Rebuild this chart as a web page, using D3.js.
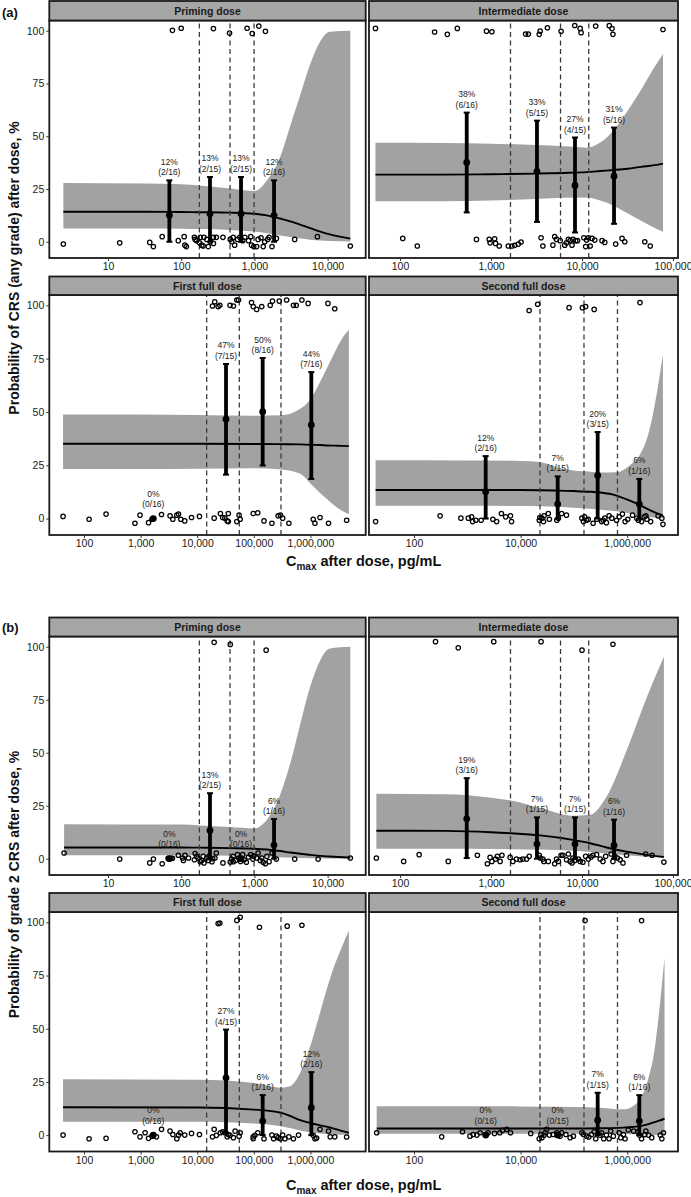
<!DOCTYPE html>
<html><head><meta charset="utf-8">
<script src="https://cdn.jsdelivr.net/npm/d3@7"></script>
<style>body{margin:0;background:#fff} svg{display:block}</style>
</head><body><svg id="chart" width="691" height="1197"></svg>
<script>
// ---------------- DATA ----------------
const doses = ["Priming dose", "Intermediate dose", "First full dose", "Second full dose"];
const partLabels = ["(a)", "(b)"];
const yTitles = ["Probability of CRS (any grade) after dose, %", "Probability of grade 2 CRS after dose, %"];
const yTicks = [0, 25, 50, 75, 100];
const xTickValues = [[10, 100, 1000, 10000], [100, 1000, 10000, 100000], [100, 1000, 10000, 100000, 1000000], [100, 10000, 1000000]];
// log10 axis ranges (pg/mL)
const xLogRange = [[0.198, 4.52], [1.659, 5.055], [1.387, 6.977], [1.156, 6.953]];
// quartile cut points of Cmax (pg/mL)
const quartileCuts = [[177, 464, 989], [1637, 5808, 11860], [14700, 55500, 302000], [23100, 154600, 657000]];

// observed points: [log10 Cmax, response % (jittered)]
const ptsAnyPriming = [[1.88,100.2],[2.00,101.2],[2.44,101],[2.66,98.9],[2.90,101.2],[2.97,98.7],[3.06,102.2],[3.15,99.7],
[0.39,-1.1],[1.16,-0.5],[1.57,-0.3],[1.62,-2.3],[1.74,2.4],[1.96,0.5],[2.04,2.4],[2.05,-1.6],[2.07,-2.3],[2.18,2.1],[2.19,1.1],[2.21,0.5],[2.25,-0.5],[2.28,-1.6],[2.30,-2.0],[2.31,2.1],[2.35,1.1],[2.37,-2.3],[2.40,0],[2.44,-0.8],[2.48,2.1],[2.57,2.1],[2.67,1.1],[2.69,0],[2.73,-1.6],[2.77,1.1],[2.80,2.1],[2.84,0.5],[2.87,2.1],[2.95,2.4],[2.96,-1.6],[2.99,-2.3],[3.03,-2.3],[3.05,1.1],[3.09,1.9],[3.12,-2.3],[3.14,0],[3.18,1.1],[3.20,2.1],[3.24,-2.3],[3.30,1.6],[3.55,1.1],[3.86,2.4],[4.31,-2.0],[2.26,2.1],[2.44,2.1],[2.71,2.1],[2.92,0.5]];
const ptsAnyIntermediate = [[1.73,101.1],[2.38,99.4],[2.52,98.3],[2.63,101.1],[2.95,99.8],[3.01,99.5],[3.38,98.4],[3.41,98.4],[3.53,98.3],[3.54,99.8],[3.62,101.4],[3.77,99.7],[3.92,102.5],[3.98,101.1],[3.99,99.1],[4.15,102.2],[4.30,102.4],[4.33,101],[4.34,98.3],[4.89,100.6],
[2.03,1.6],[2.19,-2.0],[2.84,1.1],[2.98,1.1],[2.99,-0.5],[3.04,1.4],[3.05,-0.8],[3.09,-2.0],[3.19,-2.0],[3.23,-2.0],[3.26,-1.7],[3.30,-1.1],[3.33,-0.1],[3.55,1.9],[3.57,-2.0],[3.68,-1.6],[3.70,2.4],[3.72,1.1],[3.76,0.5],[3.81,-1.6],[3.83,-0.5],[3.85,1.1],[3.87,0.5],[3.89,-1.6],[3.90,1.1],[3.93,0.5],[3.95,0.5],[4.02,1.9],[4.04,-2.3],[4.05,0.8],[4.07,1.9],[4.09,-2.0],[4.11,1.6],[4.14,0.8],[4.22,0.5],[4.25,-0.3],[4.37,-1.1],[4.44,1.6],[4.47,0],[4.69,0],[4.75,-2.0]];
const ptsAnyFirst = [[4.27,99.7],[4.31,101.7],[4.37,99.4],[4.40,100],[4.58,100],[4.64,99.7],[4.70,102.5],[4.73,102.5],[4.96,101.3],[4.99,99.4],[5.05,98.1],[5.14,99.4],[5.29,100],[5.33,102],[5.45,102],[5.58,102.5],[5.70,100],[5.75,100],[5.85,102.5],[5.96,100.9],[6.31,100.9],[6.43,98.4],
[1.63,1.0],[2.09,-0.3],[2.39,2.1],[2.90,-2.2],[2.99,1.6],[3.14,-1.9],[3.20,-0.3],[3.22,0],[3.37,1.9],[3.52,1.3],[3.57,-0.3],[3.64,1.6],[3.67,2.1],[3.71,-0.3],[3.78,-1.1],[3.90,0.5],[4.04,1.0],[4.30,0.2],[4.41,2.4],[4.45,0.5],[4.49,0.2],[4.53,-1.1],[4.55,2.4],[4.70,-1.4],[4.74,1.6],[4.76,-0.3],[4.99,2.4],[5.07,2.7],[5.18,-1.1],[5.32,-2.2],[5.43,1.3],[5.47,1.6],[5.51,0.2],[5.62,-2.2],[6.05,-0.3],[6.08,-2.2],[6.17,0.5],[6.32,-2.2],[6.64,-0.8],[4.55,-1.4]];
const ptsAnySecond = [[4.16,97.6],[4.32,100.5],[4.91,98.9],[5.16,98.9],[5.22,99.4],[5.38,98.1],[6.24,101.3],
[1.28,-1.4],[2.49,1.3],[2.88,0.2],[3.02,0.2],[3.10,-1.4],[3.16,-0.8],[3.26,-0.8],[3.48,-0.3],[3.64,2.4],[3.72,0.8],[3.81,1.3],[3.83,-1.4],[4.35,-0.8],[4.40,0.2],[4.43,-1.4],[4.52,2.4],[4.54,-0.3],[4.77,2.4],[4.86,1.6],[5.15,0.2],[5.20,0.8],[5.27,-0.3],[5.36,-2.2],[5.43,-0.3],[5.52,-1.4],[5.58,0.2],[5.61,-1.9],[5.66,1.3],[5.85,0.8],[5.91,2.1],[5.96,-1.4],[6.01,-0.3],[6.10,1.6],[6.21,-0.8],[6.32,0.8],[6.35,1.3],[6.44,-1.4],[6.58,1.3],[6.65,0.2],[6.67,-2.7],[4.68,-0.8],[4.71,0.2],[4.36,0.5],[4.44,1.3],[5.18,-1.4],[5.24,-0.8],[5.55,-0.8],[5.71,0.2],[5.80,-0.8],[6.18,0.2],[6.27,-1.4],[6.37,-0.3],[3.55,-1.4],[3.08,0.8]];
const ptsG2Priming = [[2.45,102.1],[2.67,101.1],[3.16,98.4],
[0.40,2.7],[1.16,-0.2],[1.57,-2.0],[1.62,-0.2],[1.74,-2.4],[1.82,0.2],[1.86,0.2],[1.88,0.2],[1.96,1.6],[2.02,0.3],[2.05,1.6],[2.03,-0.8],[2.19,2.4],[2.18,-0.5],[2.23,0.3],[2.26,-1.4],[2.30,1.1],[2.31,-2.0],[2.35,0.3],[2.38,1.1],[2.42,-1.4],[2.43,0],[2.48,2.7],[2.57,-2.0],[2.67,-1.6],[2.69,-0.2],[2.71,1.1],[2.74,-0.8],[2.77,1.9],[2.79,0.3],[2.84,1.9],[2.86,-0.5],[2.89,-1.7],[2.95,1.9],[2.98,-0.2],[2.99,1.1],[3.05,2.7],[3.08,-0.8],[3.12,-1.7],[3.15,-2.4],[3.20,-1.4],[3.30,-0.2],[3.55,-0.2],[3.87,-0.2],[4.31,0.3],[2.21,1.1],[2.28,-0.8],[2.37,-0.8],[2.46,0.3],[2.71,-1.4],[2.81,-1.3],[2.92,0.8],[3.03,0.3],[3.10,0.3],[3.17,1.1],[3.24,2.7],[2.10,0.3]];
const ptsG2Intermediate = [[2.39,102.4],[2.64,99.5],[3.03,102.4],[3.55,102.4],[4.00,98.4],[4.34,101.2],
[1.74,0.3],[2.04,-1.3],[2.21,1.9],[2.53,-1.3],[2.85,1.6],[2.96,-2.4],[2.99,0.6],[3.01,-1.3],[3.05,-0.2],[3.07,1.1],[3.12,1.6],[3.21,0.6],[3.24,-1.3],[3.28,-0.2],[3.32,-0.5],[3.35,-0.2],[3.42,1.1],[3.53,1.6],[3.57,-0.2],[3.63,-1.3],[3.70,-2.4],[3.72,-0.2],[3.77,1.6],[3.79,1.6],[3.85,2.2],[3.87,-1.3],[3.89,-2.0],[3.92,-0.8],[3.98,-1.3],[4.04,1.1],[4.07,-0.2],[4.12,1.6],[4.16,1.9],[4.23,-1.3],[4.26,1.1],[4.32,2.2],[4.34,-1.3],[4.39,0.3],[4.45,-2.0],[4.49,1.6],[4.70,2.2],[4.77,1.6],[4.90,-1.6],[3.54,0.3],[3.58,-1.3],[3.90,0.3],[3.96,-0.2],[4.10,0.8],[4.36,1.1],[3.10,-1.3],[3.39,-0.2],[3.74,-1.3],[3.83,-0.5],[4.01,-1.7],[4.20,-0.2],[4.42,-0.5]];
const ptsG2First = [[4.37,99.4],[4.40,99.7],[4.70,100.9],[4.76,102.4],[5.10,97.7],[5.59,98.2],[5.85,98.6],
[1.63,0],[2.09,-1.7],[2.39,-1.5],[2.90,1.6],[2.99,-0.8],[3.14,-1.5],[3.20,-0.5],[3.22,0],[3.37,2.7],[3.52,1.9],[3.57,0.3],[3.64,-1.7],[3.67,0],[3.78,0],[3.90,0.8],[4.04,0.3],[4.27,-0.8],[4.30,2.7],[4.41,1.1],[4.45,1.6],[4.49,1.1],[4.53,-0.8],[4.55,0.3],[4.67,1.9],[4.74,-0.5],[4.76,1.1],[4.99,-0.8],[5.07,1.1],[5.18,-1.7],[5.32,0],[5.43,-1.2],[5.47,-1.7],[5.51,0],[5.62,-0.8],[5.79,0],[6.05,-0.1],[6.08,-1.7],[6.17,2.7],[6.32,1.9],[6.43,-0.8],[6.64,-0.9],[4.99,-1.7],[5.40,-0.5],[5.55,-1.7],[3.28,-0.8],[3.70,1.1],[4.34,-0.1],[4.58,-0.1],[4.64,-1.2],[5.02,-0.1],[5.35,-1.7],[5.70,-1.7],[6.11,-1.4],[6.35,-0.8],[3.08,1.1]];
const ptsG2Second = [[5.21,100.8],[6.27,100.8],
[1.30,1.1],[2.52,-0.8],[2.91,1.6],[3.05,-0.5],[3.11,0.3],[3.18,0],[3.24,1.1],[3.36,0.3],[3.51,0.8],[3.66,2.2],[3.74,2.7],[3.81,1.1],[4.19,0.8],[4.35,-1.7],[4.38,0.3],[4.44,-0.1],[4.49,2.7],[4.54,0],[4.61,0.3],[4.71,0.3],[4.77,1.1],[4.85,0.3],[4.93,-1.2],[5.18,0.3],[5.24,-0.5],[5.28,-0.9],[5.38,1.6],[5.41,-1.7],[5.49,0],[5.56,-1.7],[5.61,0],[5.66,-1.7],[5.69,1.9],[5.85,1.1],[5.88,-1.2],[5.96,-1.7],[6.02,2.4],[6.12,1.9],[6.20,1.6],[6.27,-1.7],[6.33,0.3],[6.35,1.9],[6.46,-1.2],[6.62,0],[6.68,1.1],[6.65,-1.7],[4.40,-1.2],[4.46,1.1],[4.68,1.1],[4.74,-0.5],[5.15,1.1],[5.33,0.3],[5.52,1.1],[5.74,-0.5],[5.93,0.3],[6.23,0],[6.40,0],[3.39,1.1],[3.61,1.1],[4.99,-0.5]];

// logistic-regression fit: [log10 Cmax, lower 95% CI, upper 95% CI, predicted %]
const fitAnyPriming = [[0.39,6.3,27.8,14.2],[1.5,6.3,27.6,14.2],[2.0,6.2,27.2,14.1],[2.25,6.0,26.7,14.0],[2.67,5.6,25.2,13.8],[3.0,4.8,24.0,13.3],[3.17,4.0,29,12.5],[3.35,3.0,40,11],[3.49,2.2,55,9.7],[3.63,1.5,70,8],[3.76,1.0,84,6.5],[3.90,0.6,95,4.8],[4.03,0.3,99.5,3.5],[4.31,0.1,100,1.5]];
const fitAnyIntermediate = [[1.73,19.2,46.9,31.8],[2.5,19.2,46.8,31.8],[3.0,19.5,46.5,32],[3.5,20.3,45.8,32.3],[3.8,20.8,45.2,32.6],[4.05,21,44.6,33],[4.2,19.5,47,33.5],[4.35,17,53,34],[4.5,13.5,62,34.6],[4.65,10,72,35.5],[4.8,6.5,83,36.3],[4.89,4.7,89,37]];
const fitAnyFirst = [[1.63,23.3,48.8,35.1],[3.0,23.3,48.8,35.1],[4.0,23.4,48.6,35.1],[5.0,23.6,48.2,35.0],[5.48,23.0,48.4,34.9],[5.82,21,51.5,34.8],[6.0,16.5,56,34.6],[6.17,12,64,34.5],[6.3,9,71,34.3],[6.43,6,78,34.2],[6.55,3.8,84,34.1],[6.68,2,88.5,34.0]];
const fitAnySecond = [[1.28,6.0,27.3,13.4],[3.0,6.0,27.2,13.4],[4.0,5.9,27,13.4],[4.36,5.8,26.5,13.3],[4.7,5.5,24,13.1],[4.99,5.1,22.5,12.9],[5.3,4.6,22,12.6],[5.5,4.2,21.6,12.2],[5.8,3.4,21.7,10.8],[6.05,2.4,25,8.4],[6.24,1.5,30,6.3],[6.4,0.8,40,4.3],[6.55,0.3,58,2.6],[6.67,0.1,77,1.5]];
const fitG2Priming = [[0.40,1.6,16.3,5.3],[2.0,1.6,16.1,5.3],[2.25,1.6,15.7,5.2],[2.67,1.4,14.9,5.0],[3.0,1.2,14.3,4.7],[3.17,1.0,18.4,4.3],[3.35,0.7,30,3.6],[3.49,0.5,45,2.9],[3.63,0.3,64,2.3],[3.76,0.2,81,1.8],[3.90,0.1,93.7,1.3],[4.03,0.05,99.2,1.0],[4.31,0,100,0.5]];
const fitG2Intermediate = [[1.74,4.7,30.6,13.2],[2.5,4.7,30.4,13.1],[3.0,4.6,28.8,12.5],[3.22,4.5,27.5,12.0],[3.54,4.3,23.9,11.0],[3.9,3.8,20.3,8.9],[4.09,3.2,20.7,7.3],[4.27,2.5,29.3,5.3],[4.49,1.6,51,3.3],[4.71,0.9,76,1.8],[4.90,0.5,95.3,0.8]];
const fitG2First = [[1.63,6.3,26.2,13.1],[4.0,6.3,26.0,13.0],[5.0,5.5,24.5,12.0],[5.48,4.2,22.3,10.5],[5.64,3.3,23,9.0],[5.82,2.2,29.3,7.0],[6.0,1.4,42,5.7],[6.17,0.8,57.5,4.6],[6.4,0.3,77.8,3.2],[6.55,0.15,88,2.0],[6.68,0.05,96,1.1]];
const fitG2Second = [[1.30,0.7,13.6,3.1],[4.0,0.7,13.5,3.1],[5.0,0.7,13.2,3.1],[5.49,0.6,12.9,3.2],[5.93,0.5,12.1,3.5],[6.1,0.4,13.5,3.8],[6.24,0.3,16.8,4.2],[6.4,0.2,27,5.2],[6.5,0.1,38,6.0],[6.6,0.05,58,6.8],[6.70,0,83.3,7.7]];

// quartile summaries: [log10 median Cmax, observed %, lower CI, upper CI, percent label, count label]
const barsAnyPriming = [[1.838,12.5,0,29.1,"12%","(2/16)"],[2.393,13.3,0,30.7,"13%","(2/15)"],[2.817,13.3,0,30.7,"13%","(2/15)"],[3.268,12.5,0,29.1,"12%","(2/16)"]];
const barsAnyIntermediate = [[2.733,37.6,13.9,61.2,"38%","(6/16)"],[3.505,33.3,9.4,57.4,"33%","(5/15)"],[3.923,26.7,4.4,49.4,"27%","(4/15)"],[4.352,31.1,8.5,54.1,"31%","(5/16)"]];
const barsAnyFirst = [[3.225,0,0,0,"0%","(0/16)"],[4.509,46.6,20.6,72.5,"47%","(7/15)"],[5.157,50.1,24.9,75.3,"50%","(8/16)"],[6.016,43.9,18.6,68.7,"44%","(7/16)"]];
const barsAnySecond = [[3.345,12.6,0,29.3,"12%","(2/16)"],[4.696,6.8,0,19.8,"7%","(1/15)"],[5.446,20.2,0,40.6,"20%","(3/15)"],[6.227,6.8,0,18.6,"6%","(1/16)"]];
const barsG2Priming = [[1.838,0,0,0,"0%","(0/16)"],[2.393,13.3,0,30.9,"13%","(2/15)"],[2.817,0,0,0,"0%","(0/16)"],[3.268,6.4,0,18.7,"6%","(1/16)"]];
const barsG2Intermediate = [[2.733,18.8,0.3,38,"19%","(3/16)"],[3.505,6.9,0,19.5,"7%","(1/15)"],[3.923,6.9,0,19.5,"7%","(1/15)"],[4.352,6.3,0,18.4,"6%","(1/16)"]];
const barsG2First = [[3.225,0,0,0,"0%","(0/16)"],[4.509,26.9,1.1,49.6,"27%","(4/15)"],[5.157,6.6,0,18.8,"6%","(1/16)"],[6.016,12.9,0,29.6,"12%","(2/16)"]];
const barsG2Second = [[3.345,0,0,0,"0%","(0/16)"],[4.696,0,0,0,"0%","(0/15)"],[5.446,7.0,0,19.9,"7%","(1/15)"],[6.227,6.6,0,18.8,"6%","(1/16)"]];

const pointSets = [[ptsAnyPriming, ptsAnyIntermediate, ptsAnyFirst, ptsAnySecond], [ptsG2Priming, ptsG2Intermediate, ptsG2First, ptsG2Second]];
const fitSets = [[fitAnyPriming, fitAnyIntermediate, fitAnyFirst, fitAnySecond], [fitG2Priming, fitG2Intermediate, fitG2First, fitG2Second]];
const barSets = [[barsAnyPriming, barsAnyIntermediate, barsAnyFirst, barsAnySecond], [barsG2Priming, barsG2Intermediate, barsG2First, barsG2Second]];

// ---------------- LAYOUT ----------------
const FONT = "'Liberation Sans', Arial, Helvetica, sans-serif";
const cols = [{x0: 49.3, x1: 365.7}, {x0: 369, x1: 678}];
const rows = [
  {stripTop: 1, plotTop: 20.5, plotBottom: 258},
  {stripTop: 276.5, plotTop: 295, plotBottom: 535},
  {stripTop: 617.5, plotTop: 636.5, plotBottom: 875},
  {stripTop: 893, plotTop: 912, plotBottom: 1151.5}
];
const svg = d3.select("#chart").style("font-family", FONT);
const fmt = d3.format(",");

for (let part = 0; part < 2; part++) {
  for (let i = 0; i < 4; i++) {
    const R = rows[part * 2 + Math.floor(i / 2)];
    const C = cols[i % 2];
    const x = d3.scaleLog().domain(xLogRange[i].map(v => Math.pow(10, v))).range([C.x0, C.x1]);
    const y = d3.scaleLinear().domain([-7.7, 104.85]).range([R.plotBottom, R.plotTop]);
    const X = v => x(Math.pow(10, v));
    const g = svg.append("g");

    g.append("rect").attr("x", C.x0).attr("y", R.plotTop).attr("width", C.x1 - C.x0)
      .attr("height", R.plotBottom - R.plotTop).attr("fill", "#fff");

    const fit = fitSets[part][i];
    g.append("path").datum(fit)
      .attr("d", d3.area().x(d => X(d[0])).y0(d => y(d[1])).y1(d => y(d[2])).curve(d3.curveMonotoneX))
      .attr("fill", "#a2a2a2");
    g.append("path").datum(fit)
      .attr("d", d3.line().x(d => X(d[0])).y(d => y(d[3])).curve(d3.curveMonotoneX))
      .attr("fill", "none").attr("stroke", "#000").attr("stroke-width", 1.9);

    g.selectAll(".vl").data(quartileCuts[i]).join("line")
      .attr("x1", d => x(d)).attr("x2", d => x(d))
      .attr("y1", R.plotBottom).attr("y2", R.plotTop)
      .attr("stroke", "#3c3c3c").attr("stroke-width", 1.3).attr("stroke-dasharray", "5,3.5");

    g.selectAll(".pt").data(pointSets[part][i]).join("circle")
      .attr("cx", d => X(d[0])).attr("cy", d => y(d[1])).attr("r", 2.2)
      .attr("fill", "none").attr("stroke", "#000").attr("stroke-width", 1.25);

    const bars = barSets[part][i];
    const bg = g.selectAll(".bar").data(bars).join("g");
    bg.append("line").attr("x1", d => X(d[0])).attr("x2", d => X(d[0]))
      .attr("y1", d => y(d[2])).attr("y2", d => y(d[3]))
      .attr("stroke", "#000").attr("stroke-width", 3.8);
    bg.filter(d => d[3] > d[2]).each(function(d) {
      const s = d3.select(this);
      [d[2], d[3]].forEach(v => s.append("line")
        .attr("x1", X(d[0]) - 3).attr("x2", X(d[0]) + 3)
        .attr("y1", y(v)).attr("y2", y(v)).attr("stroke", "#000").attr("stroke-width", 2));
    });
    bg.append("circle").attr("cx", d => X(d[0])).attr("cy", d => y(d[1])).attr("r", 3.4).attr("fill", "#000");
    const lab = bg.append("text").attr("text-anchor", "middle").attr("font-size", 8.5).attr("fill", "#1a1a1a");
    lab.append("tspan").attr("x", d => X(d[0])).attr("y", d => y(Math.max(d[3], 3)) - 15.5).text(d => d[4]);
    lab.append("tspan").attr("x", d => X(d[0])).attr("y", d => y(Math.max(d[3], 3)) - 5).text(d => d[5]);

    g.append("rect").attr("x", C.x0).attr("y", R.plotTop).attr("width", C.x1 - C.x0)
      .attr("height", R.plotBottom - R.plotTop).attr("fill", "none").attr("stroke", "#1a1a1a").attr("stroke-width", 1.8);
    g.append("rect").attr("x", C.x0).attr("y", R.stripTop).attr("width", C.x1 - C.x0)
      .attr("height", R.plotTop - R.stripTop).attr("fill", "#a6a6a6").attr("stroke", "#1a1a1a").attr("stroke-width", 1.8);
    g.append("text").attr("x", (C.x0 + C.x1) / 2).attr("y", (R.stripTop + R.plotTop) / 2 + 3.8)
      .attr("text-anchor", "middle").attr("font-size", 10.5).attr("font-weight", "bold").attr("fill", "#1a1a1a")
      .text(doses[i]);

    const ax = g.append("g").attr("transform", `translate(0,${R.plotBottom})`)
      .call(d3.axisBottom(x).tickValues(xTickValues[i]).tickFormat(fmt).tickSize(3).tickPadding(2));
    ax.select(".domain").remove();
    ax.selectAll("line").attr("stroke", "#333");
    ax.selectAll("text").attr("font-size", 10.5).attr("fill", "#1a1a1a").attr("font-family", FONT);

    if (i % 2 === 0) {
      const ay = g.append("g").attr("transform", `translate(${C.x0},0)`)
        .call(d3.axisLeft(y).tickValues(yTicks).tickSize(3).tickPadding(2));
      ay.select(".domain").remove();
      ay.selectAll("line").attr("stroke", "#333");
      ay.selectAll("text").attr("font-size", 10.5).attr("fill", "#1a1a1a").attr("font-family", FONT);
    }
  }

  const bot = rows[part * 2 + 1].plotBottom;
  svg.append("text").attr("transform", `translate(19,${(rows[part * 2].stripTop + bot) / 2}) rotate(-90)`)
    .attr("text-anchor", "middle").attr("font-size", 14).attr("font-weight", "bold").attr("fill", "#111")
    .text(yTitles[part]);
  const xt = svg.append("text").attr("x", (cols[0].x0 + cols[1].x1) / 2).attr("y", part === 0 ? 566 : 1190)
    .attr("text-anchor", "middle").attr("font-size", 14.5).attr("font-weight", "bold").attr("fill", "#111");
  xt.append("tspan").text("C");
  xt.append("tspan").attr("font-size", 10).attr("dy", 4).text("max");
  xt.append("tspan").attr("dy", -4).text(" after dose, pg/mL");
  svg.append("text").attr("x", 2).attr("y", part === 0 ? 17 : 632).attr("font-size", 13)
    .attr("font-weight", "bold").attr("fill", "#111").text(partLabels[part]);
}
</script></body></html>
